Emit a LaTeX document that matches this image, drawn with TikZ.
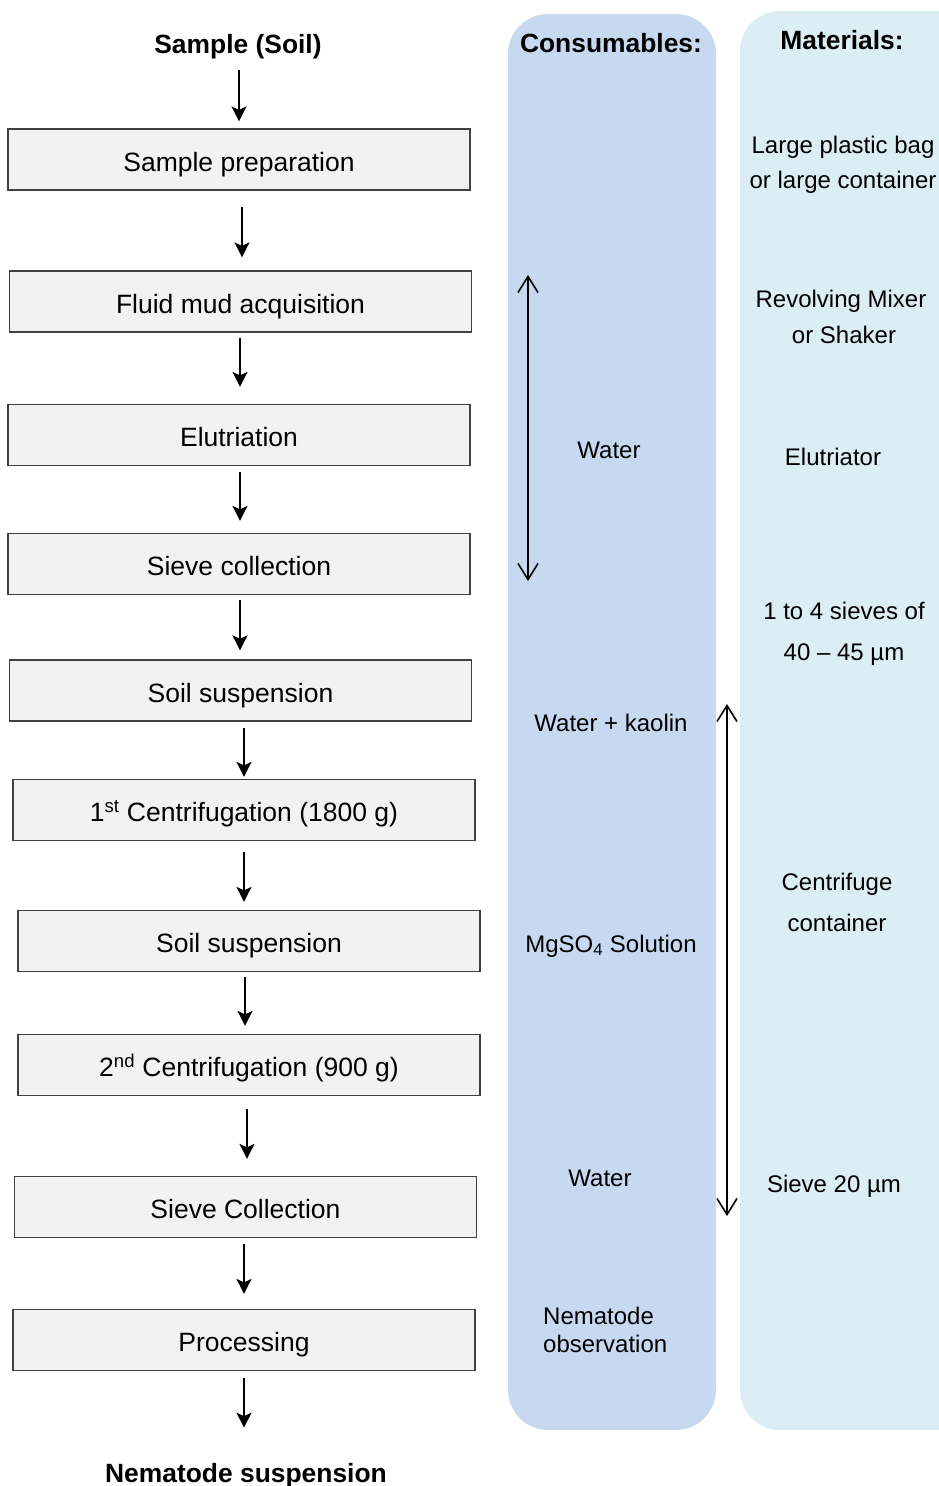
\documentclass[tikz,border=0pt]{standalone}
\usepackage{fontspec}
\setmainfont{Liberation Sans}
\usetikzlibrary{arrows.meta,calc}

\definecolor{consfill}{HTML}{C6D9F0}
\definecolor{matfill}{HTML}{DAEEF3}
\definecolor{boxfill}{HTML}{F2F2F2}
\definecolor{boxline}{HTML}{404040}

\tikzset{
  stepbox/.style={draw=boxline, line width=1.2pt, fill=boxfill,
    minimum width=462pt, minimum height=61pt, inner sep=0pt,
    text height=23pt, text depth=0pt, font=\fontsize{26.5}{32}\selectfont},
  title/.style={anchor=base, inner sep=0pt, font=\bfseries\fontsize{26.4}{32}\selectfont},
  side/.style={anchor=base, inner sep=0pt, font=\fontsize{24}{29}\selectfont},
  flow/.style={-{Stealth[length=15pt,width=15pt,inset=3.5pt]}, line width=1.6pt},
  span/.style={{Straight Barb[length=16pt,width=20pt]}-{Straight Barb[length=16pt,width=20pt]}, line width=1.6pt},
  panel/.style={rounded corners=40pt}
}

\begin{document}
\begin{tikzpicture}[x=1pt,y=-1pt]
\useasboundingbox (0,0) rectangle (939,1486);

% background columns
\begin{scope}
  \clip (0,0) rectangle (939,1486);
  \fill[consfill, panel] (508,14) rectangle (716,1430);
  \fill[matfill, panel] (740,11) rectangle (990,1430);
\end{scope}

% process steps
\node[title] (src) at (238,53) {Sample (Soil)};
\node[stepbox] (b1)  at (239,159.5)  {Sample preparation};
\node[stepbox] (b2)  at (240.5,301.5) {Fluid mud acquisition};
\node[stepbox] (b3)  at (239,435)    {Elutriation};
\node[stepbox] (b4)  at (239,564)    {Sieve collection};
\node[stepbox] (b5)  at (240.5,690.5) {Soil suspension};
\node[stepbox] (b6)  at (244,810)    {1\textsuperscript{st} Centrifugation (1800 g)};
\node[stepbox] (b7)  at (249,941)    {Soil suspension};
\node[stepbox] (b8)  at (249,1065)   {2\textsuperscript{nd} Centrifugation (900 g)};
\node[stepbox] (b9)  at (245.5,1207) {Sieve Collection};
\node[stepbox] (b10) at (244,1340)   {Processing};
\node[title] (out) at (246,1482) {Nematode suspension};

% flow arrows: from/to/start gap/end gap/x offset
\foreach \a/\b/\s/\e/\d in {src/b1/11/7/0, b1/b2/16/13/1.5, b2/b3/5/17/1,
    b3/b4/6/12/1, b4/b5/5/9/-0.5, b5/b6/6/2/0, b6/b7/11/8/-5,
    b7/b8/5/8/-4, b8/b9/13/17/1.5, b9/b10/6/15/0}
  \draw[flow, shorten <=\s pt, shorten >=\e pt]
    ($(\a.south -| \b.north)+(\d,0)$) -- ($(\b.north)+(\d,0)$);
\draw[flow, shorten <=7pt, shorten >=35pt] (b10.south) -- (b10.south |- out.north);

% consumables column
\node[title] (cons) at (611,52) {Consumables:};
\node[side] (c1) at (609,458) {Water};
\node[side] (c2) at (611,731) {Water + kaolin};
\node[side] (c3) at (611,952) {MgSO\textsubscript{4} Solution};
\node[side] (c4) at (600,1186) {Water};
\node[side, anchor=base west] (c5) at (543,1324) {Nematode};
\node[side, anchor=base west] (c6) at (543,1352) {observation};

% materials column
\node[title] (mat) at (842,49) {Materials:};
\node[side] (m1) at (843,153) {Large plastic bag};
\node[side] (m2) at (843,188) {or large container};
\node[side] (m3) at (841,307) {Revolving Mixer};
\node[side] (m4) at (844,343) {or Shaker};
\node[side] (m5) at (833,465) {Elutriator};
\node[side] (m6) at (844,619) {1 to 4 sieves of};
\node[side] (m7) at (844,660) {40 – 45 µm};
\node[side] (m8) at (837,890) {Centrifuge};
\node[side] (m9) at (837,931) {container};
\node[side] (m10) at (834,1192) {Sieve 20 µm};

% range arrows
\coordinate (wa) at (528,275);
\coordinate (wb) at (528,581);
\coordinate (ka) at (727,704);
\coordinate (kb) at (727,1216);
\draw[span] (wa) -- (wb);
\draw[span] (ka) -- (kb);
\end{tikzpicture}
\end{document}
